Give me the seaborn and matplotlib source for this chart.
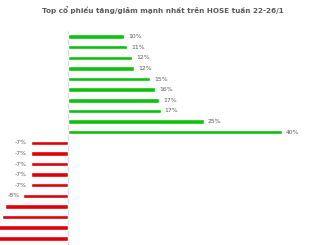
import matplotlib
matplotlib.use("Agg")
import matplotlib.pyplot as plt
import seaborn as sns
import pandas as pd

title = "Top cổ phiếu tăng/giảm mạnh nhất trên HOSE tuần 22-26/1"
gain_names = [f"G{i}" for i in range(1, 11)]
gain_values = [10.4, 11.0, 12.0, 12.4, 15.4, 16.3, 17.0, 17.3, 25.4, 40.0]
loss_names = [f"L{i}" for i in range(1, 11)]
loss_values = [-7.0, -7.0, -7.0, -7.0, -7.0, -8.4, -11.9, -12.4, -14.0, -15.0]

df = pd.DataFrame({
    "stock": gain_names + loss_names,
    "value": gain_values + loss_values,
    "group": ["up"] * len(gain_values) + ["down"] * len(loss_values),
})

sns.set_theme(style="white")
plt.rcParams["font.family"] = ["DejaVu Sans"]

fig = plt.figure(figsize=(3.26, 2.45), dpi=100)
ax = fig.add_axes([0, 0, 1, 1])
sns.barplot(data=df, x="value", y="stock", hue="group",
            palette={"up": "#0DC20D", "down": "#E0000B"},
            orient="h", width=0.42, dodge=False, legend=False,
            saturation=1, ax=ax)

n = len(df)
ax.set_xlim(-12.8, 48.3)
ax.set_ylim(n - 1 + 0.63, -3.45)
ax.axis("off")
ax.vlines(0, -0.5, n, color="#D9D9D9", lw=0.8, zorder=0)

for i, v in enumerate(df["value"]):
    if v >= 0:
        ax.annotate(f"{v:.0f}%", (v, i), xytext=(3, 0), textcoords="offset points",
                    ha="left", va="center", fontsize=4.4, color="#595959")
    else:
        ax.annotate(f"{v:.0f}%", (v, i), xytext=(-3, 0), textcoords="offset points",
                    ha="right", va="center", fontsize=4.4, color="#595959")

fig.text(0.5, 1 - 10.5 / 245, title, ha="center", va="center",
         fontsize=5.2, fontweight="bold", color="#595959")

fig.savefig("out.png", dpi=100)
